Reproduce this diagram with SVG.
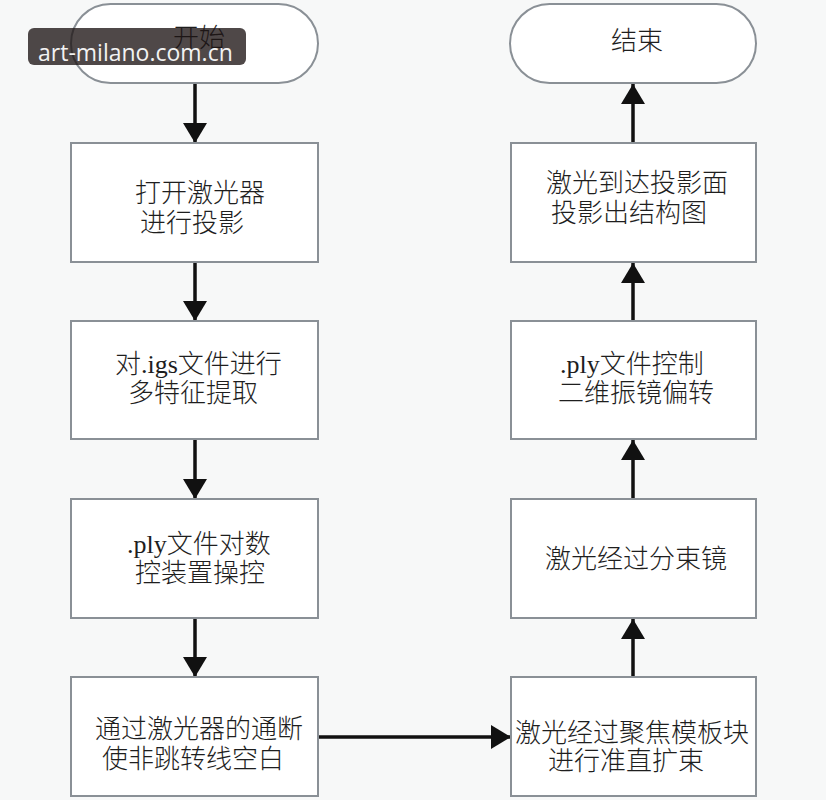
<svg xmlns="http://www.w3.org/2000/svg" width="826" height="800" viewBox="0 0 826 800">
<defs>
<style>
.bg{fill:#f7f8f8}
.box{fill:#ffffff;stroke:#8a9096;stroke-width:2}
.t{font-family:"Liberation Serif","Noto Sans CJK SC",serif;font-size:26px;font-weight:300;fill:#1e1e1e}
.c{stroke:#111;stroke-width:3.5;fill:none}
.wm{fill:#1e1414;fill-opacity:0.78}
.wmt{font-family:"Open Sans","Noto Sans",sans-serif;font-size:23px;fill:#f2f2f2}
</style>
<marker id="ah" markerUnits="userSpaceOnUse" markerWidth="20" markerHeight="24" refX="20" refY="12" orient="auto">
<path d="M0,0 L20,12 L0,24 Z" fill="#111"/>
</marker>
</defs>
<rect class="bg" x="0" y="0" width="826" height="800"/>
<g id="connectors">
<line class="c" x1="195" y1="84" x2="195" y2="143" marker-end="url(#ah)"/>
<line class="c" x1="195" y1="263" x2="195" y2="321" marker-end="url(#ah)"/>
<line class="c" x1="195" y1="440" x2="195" y2="499" marker-end="url(#ah)"/>
<line class="c" x1="195" y1="619" x2="195" y2="677" marker-end="url(#ah)"/>
<line class="c" x1="319" y1="737" x2="511" y2="737" marker-end="url(#ah)"/>
<line class="c" x1="633" y1="677" x2="633" y2="619" marker-end="url(#ah)"/>
<line class="c" x1="633" y1="499" x2="633" y2="440" marker-end="url(#ah)"/>
<line class="c" x1="633" y1="321" x2="633" y2="263" marker-end="url(#ah)"/>
<line class="c" x1="633" y1="143" x2="633" y2="84" marker-end="url(#ah)"/>
</g>
<g id="start">
<rect class="box" x="71" y="4" width="247" height="79" rx="39.5" ry="39.5"/>
<text class="t" x="173" y="47">开始</text>
</g>
<g id="n1">
<rect class="box" x="71" y="143" width="247" height="119"/>
<text class="t" x="135" y="202">打开激光器</text>
<text class="t" x="140" y="232">进行投影</text>
</g>
<g id="n2">
<rect class="box" x="71" y="321" width="247" height="118"/>
<text class="t" x="115" y="373">对.igs文件进行</text>
<text class="t" x="128" y="402">多特征提取</text>
</g>
<g id="n3">
<rect class="box" x="71" y="499" width="247" height="119"/>
<text class="t" x="127" y="553">.ply文件对数</text>
<text class="t" x="135" y="582">控装置操控</text>
</g>
<g id="n4">
<rect class="box" x="71" y="677" width="247" height="119"/>
<text class="t" x="95" y="738">通过激光器的通断</text>
<text class="t" x="102" y="768">使非跳转线空白</text>
</g>
<g id="n5">
<rect class="box" x="511" y="677" width="245" height="119"/>
<text class="t" x="515" y="742">激光经过聚焦模板块</text>
<text class="t" x="548" y="770">进行准直扩束</text>
</g>
<g id="n6">
<rect class="box" x="511" y="499" width="245" height="119"/>
<text class="t" x="545" y="568">激光经过分束镜</text>
</g>
<g id="n7">
<rect class="box" x="511" y="321" width="245" height="118"/>
<text class="t" x="560" y="373">.ply文件控制</text>
<text class="t" x="558" y="402">二维振镜偏转</text>
</g>
<g id="n8">
<rect class="box" x="511" y="143" width="245" height="119"/>
<text class="t" x="546" y="192">激光到达投影面</text>
<text class="t" x="551" y="222">投影出结构图</text>
</g>
<g id="end">
<rect class="box" x="510" y="4" width="246" height="79" rx="39.5" ry="39.5"/>
<text class="t" x="611" y="50">结束</text>
</g>
<g id="watermark">
<rect class="wm" x="28" y="28" width="218" height="37" rx="6" ry="6"/>
<text class="wmt" x="38" y="61">art-milano.com.cn</text>
</g>
</svg>
